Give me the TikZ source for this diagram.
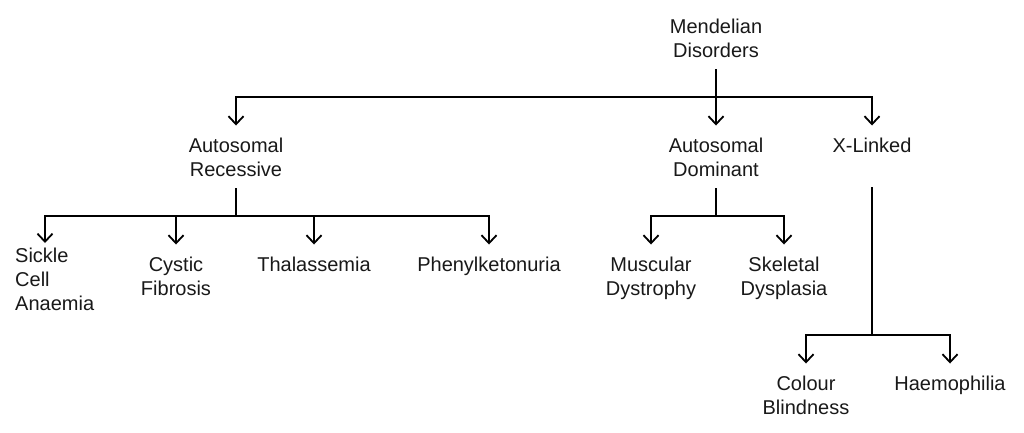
\documentclass[tikz,border=0pt]{standalone}
\usepackage{fontspec}
\setmainfont{Liberation Sans}
\usetikzlibrary{arrows.meta}
\begin{document}
\begin{tikzpicture}[x=1pt,y=-1pt,
  lbl/.style={font=\fontsize{20}{24}\selectfont, align=center, inner sep=0pt, outer ysep=12pt, anchor=base, text=black!90},
  conn/.style={line width=1.8pt, draw=black},
  arr/.style={conn, -{Straight Barb[length=8pt,width=15pt]}}]
\fill[white] (0,0) rectangle (1024,432);
\useasboundingbox (0,0) rectangle (1024,432);
% level coordinates
\coordinate (lvl1) at (0,97);
\coordinate (lvl2) at (0,216);
\coordinate (lvl3) at (0,335);
% nodes (anchor = baseline of last line)
\node[lbl] (root) at (716,57) {Mendelian\\Disorders};
\node[lbl] (ar) at (236,176) {Autosomal\\Recessive};
\node[lbl] (ad) at (716,176) {Autosomal\\Dominant};
\node[lbl] (xl) at (872,152) {X-Linked};
\node[lbl, align=left, anchor=base west] (sca) at (15,310) {Sickle\\Cell\\Anaemia};
\node[lbl] (cf) at (176,295) {Cystic\\Fibrosis};
\node[lbl] (th) at (314,271) {Thalassemia};
\node[lbl] (pku) at (489,271) {Phenylketonuria};
\node[lbl] (md) at (651,295) {Muscular\\Dystrophy};
\node[lbl] (sd) at (784,295) {Skeletal\\Dysplasia};
\node[lbl] (cb) at (806,414) {Colour\\Blindness};
\node[lbl] (hm) at (950,390) {Haemophilia};
\coordinate (scatip) at (45,243);
% root connectors
\draw[conn] (root.south) -- (root.south |- lvl1);
\draw[arr] (root.south |- lvl1) -| (ar.north);
\draw[arr] (root.south |- lvl1) -- (ad.north);
\draw[arr] (root.south |- lvl1) -| (xl.north);
% autosomal recessive
\draw[conn] (ar.south) -- (ar.south |- lvl2);
\draw[arr] (ar.south |- lvl2) -| (scatip);
\draw[arr] (ar.south |- lvl2) -| (cf.north);
\draw[arr] (ar.south |- lvl2) -| (th.north);
\draw[arr] (ar.south |- lvl2) -| (pku.north);
% autosomal dominant
\draw[conn] (ad.south) -- (ad.south |- lvl2);
\draw[arr] (ad.south |- lvl2) -| (md.north);
\draw[arr] (ad.south |- lvl2) -| (sd.north);
% x-linked
\draw[conn] ([yshift=-23pt]xl.south) -- (xl.south |- lvl3);
\draw[arr] (xl.south |- lvl3) -| (cb.north);
\draw[arr] (xl.south |- lvl3) -| (hm.north);
\end{tikzpicture}
\end{document}
